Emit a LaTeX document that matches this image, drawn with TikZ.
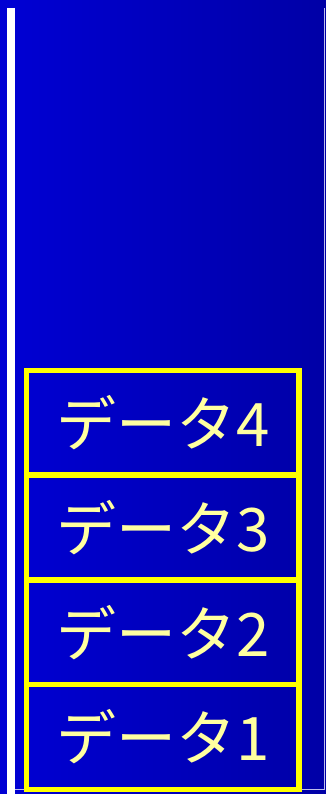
\documentclass[tikz,border=0pt]{standalone}
\usepackage{fontspec}
\newfontfamily\jpfont{Noto Sans CJK JP}
\usetikzlibrary{positioning}
\definecolor{bgleft}{RGB}{0,0,212}
\definecolor{bgright}{RGB}{0,0,166}
\definecolor{datayellow}{RGB}{255,255,0}
\definecolor{datatext}{RGB}{255,255,160}
\definecolor{frameline}{RGB}{190,190,235}

\begin{document}
\begin{tikzpicture}[
  x=1pt, y=1pt,
  databox/.style={draw=datayellow, line width=5.5pt, outer sep=0pt, inner sep=0pt,
                  minimum width=272.5pt, minimum height=104.75pt,
                  text=datatext, font=\jpfont\fontsize{60}{62}\selectfont},
  stackedge/.style={draw=white, line width=8pt},
  thinedge/.style={draw=frameline, line width=1pt}
]
  \useasboundingbox (0,0) rectangle (326,794);
  % background
  \shade[left color=bgleft, right color=bgright] (0,0) rectangle (326,794);

  % stack frame
  \coordinate (ftop) at (11,786);
  \coordinate (fbot) at (11,0);
  \coordinate (rtop) at (324,786);
  \coordinate (rbot) at (324,4);
  \coordinate (lbot) at (15,4);
  \draw[thinedge] (lbot) -- (rbot) -- (rtop);
  \draw[stackedge] (ftop) -- (fbot);

  % data boxes
  \node[databox] (data1) at (162.75,56.9) {データ1};
  \node[databox, above=0pt of data1] (data2) {データ2};
  \node[databox, above=0pt of data2] (data3) {データ3};
  \node[databox, above=0pt of data3] (data4) {データ4};
\end{tikzpicture}
\end{document}
